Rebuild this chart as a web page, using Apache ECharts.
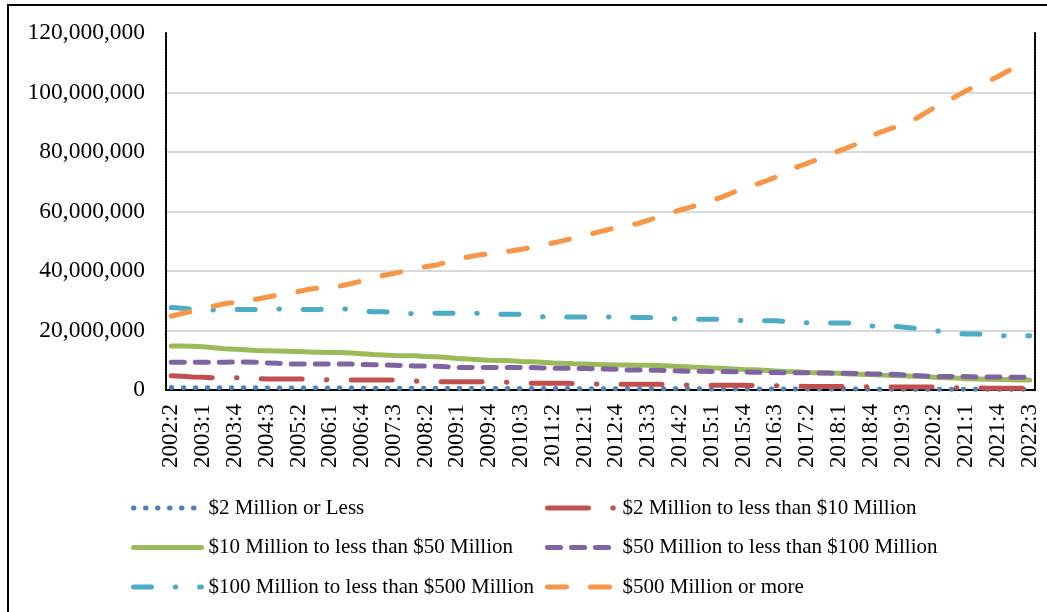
<!DOCTYPE html>
<html>
<head>
<meta charset="utf-8">
<style>
  html, body { margin: 0; padding: 0; background: #fff; }
  #chart { width: 1047px; height: 612px; }
</style>
<script src="https://cdn.jsdelivr.net/npm/echarts@6/dist/echarts.min.js"></script>
</head>
<body>
<div id="chart"></div>
<script>
// Quarters, 2002:2 through 2022:3
const quarters = [
  '2002:2','2002:3','2002:4',
  '2003:1','2003:2','2003:3','2003:4',
  '2004:1','2004:2','2004:3','2004:4',
  '2005:1','2005:2','2005:3','2005:4',
  '2006:1','2006:2','2006:3','2006:4',
  '2007:1','2007:2','2007:3','2007:4',
  '2008:1','2008:2','2008:3','2008:4',
  '2009:1','2009:2','2009:3','2009:4',
  '2010:1','2010:2','2010:3','2010:4',
  '2011:1','2011:2','2011:3','2011:4',
  '2012:1','2012:2','2012:3','2012:4',
  '2013:1','2013:2','2013:3','2013:4',
  '2014:1','2014:2','2014:3','2014:4',
  '2015:1','2015:2','2015:3','2015:4',
  '2016:1','2016:2','2016:3','2016:4',
  '2017:1','2017:2','2017:3','2017:4',
  '2018:1','2018:2','2018:3','2018:4',
  '2019:1','2019:2','2019:3','2019:4',
  '2020:1','2020:2','2020:3','2020:4',
  '2021:1','2021:2','2021:3','2021:4',
  '2022:1','2022:2','2022:3'
];

// Values in millions
const upTo2M = [
  0.80,0.79,0.78,0.77,0.76,0.75,0.74,0.73,0.72,0.71,
  0.70,0.69,0.68,0.67,0.66,0.66,0.65,0.64,0.63,0.62,
  0.61,0.60,0.59,0.58,0.57,0.56,0.56,0.55,0.54,0.53,
  0.52,0.51,0.50,0.50,0.49,0.48,0.47,0.47,0.46,0.45,
  0.44,0.44,0.43,0.42,0.42,0.41,0.40,0.40,0.39,0.38,
  0.38,0.37,0.37,0.36,0.35,0.35,0.34,0.34,0.33,0.33,
  0.32,0.32,0.31,0.31,0.30,0.30,0.29,0.29,0.28,0.28,
  0.27,0.27,0.27,0.26,0.26,0.25,0.25,0.25,0.24,0.24,
  0.24,0.23
];
const from2To10M = [
  4.8,4.6,4.4,4.3,4.1,4.1,4.1,4.0,3.8,3.7,
  3.7,3.7,3.7,3.6,3.5,3.4,3.4,3.4,3.4,3.4,
  3.4,3.4,3.2,3.0,2.9,2.8,2.8,2.8,2.8,2.8,
  2.7,2.6,2.6,2.4,2.3,2.3,2.3,2.3,2.2,2.1,
  2.0,2.0,1.9,1.9,1.9,1.9,1.9,1.8,1.7,1.7,
  1.6,1.6,1.6,1.6,1.6,1.5,1.5,1.4,1.4,1.3,
  1.2,1.2,1.2,1.2,1.2,1.1,1.1,1.1,1.0,1.0,
  1.0,1.0,1.0,0.9,0.8,0.7,0.7,0.6,0.6,0.6,
  0.6,0.6
];
const from10To50M = [
  14.8,14.8,14.7,14.5,14.2,13.9,13.7,13.5,13.3,13.2,
  13.1,13.0,12.9,12.8,12.7,12.6,12.6,12.4,12.2,11.9,
  11.8,11.6,11.5,11.5,11.3,11.2,10.9,10.6,10.4,10.2,
  10.0,9.9,9.8,9.6,9.5,9.3,9.1,9.0,8.8,8.7,
  8.6,8.5,8.4,8.4,8.3,8.3,8.2,8.1,7.9,7.7,
  7.6,7.4,7.3,7.1,6.9,6.8,6.6,6.4,6.2,6.1,
  5.9,5.8,5.7,5.6,5.4,5.3,5.2,5.0,4.9,4.8,
  4.6,4.5,4.3,4.1,4.0,3.8,3.7,3.6,3.5,3.5,
  3.4,3.4
];
const from50To100M = [
  9.3,9.3,9.3,9.3,9.3,9.3,9.4,9.4,9.3,9.1,
  9.0,8.8,8.7,8.7,8.7,8.7,8.7,8.7,8.6,8.5,
  8.4,8.3,8.2,8.1,8.1,8.0,7.8,7.6,7.6,7.5,
  7.6,7.6,7.6,7.6,7.6,7.4,7.3,7.3,7.3,7.2,
  7.1,7.1,7.0,6.7,6.7,6.7,6.6,6.5,6.4,6.3,
  6.3,6.2,6.2,6.1,6.1,6.0,5.9,5.9,5.8,5.8,
  5.8,5.7,5.7,5.6,5.6,5.5,5.4,5.4,5.3,5.1,
  4.9,4.7,4.5,4.5,4.5,4.5,4.4,4.4,4.4,4.3,
  4.3,4.2
];
const from100To500M = [
  27.7,27.5,27.1,27.0,26.9,27.0,27.1,27.1,27.1,27.2,
  27.2,27.2,27.1,27.1,27.1,27.2,27.3,27.1,26.6,26.3,
  26.3,26.0,25.8,25.6,25.7,25.8,25.8,25.8,25.8,25.8,
  25.6,25.5,25.5,25.5,25.0,24.6,24.5,24.5,24.5,24.5,
  24.6,24.6,24.5,24.5,24.4,24.4,24.1,24.0,23.9,23.8,
  23.8,23.8,23.7,23.5,23.3,23.3,23.3,23.3,23.0,22.8,
  22.6,22.6,22.5,22.5,22.5,22.0,21.5,21.5,21.5,21.2,
  20.8,20.3,20.0,19.5,19.0,18.8,18.8,18.7,18.3,18.2,
  18.2,18.2
];
const from500MUp = [
  24.8,25.7,26.5,27.4,28.2,29.0,29.5,30.0,30.5,31.2,
  31.9,32.4,33.1,33.9,34.3,34.5,35.0,35.8,36.7,37.7,
  38.5,39.2,40.0,40.8,41.4,42.0,43.0,44.0,44.7,45.4,
  45.8,46.3,46.7,47.3,47.9,48.6,49.4,50.2,51.1,51.9,
  52.8,53.7,54.6,55.3,55.9,57.0,58.3,59.4,60.5,61.5,
  62.6,63.7,64.9,66.4,67.7,68.9,70.1,71.5,73.1,74.9,
  76.2,77.5,79.0,80.4,81.7,83.3,85.3,86.8,88.0,89.3,
  90.7,92.8,94.9,96.7,98.6,100.6,102.2,103.6,105.4,107.3,
  109.0,110.6
];

const seriesNames = [
  '$2 Million or Less',
  '$2 Million to less than $10 Million',
  '$10 Million to less than $50 Million',
  '$50 Million to less than $100 Million',
  '$100 Million to less than $500 Million',
  '$500 Million or more'
];
const yTicks = { min: 0, max: 120, step: 20 }; // millions

const FONT = '"Liberation Serif", "Times New Roman", serif';
const LINE_W = 5;

function lineSeries(name, data, color, dash) {
  return {
    name: name,
    type: 'line',
    data: data,
    symbol: 'none',
    showSymbol: false,
    silent: true,
    lineStyle: {
      color: color,
      width: LINE_W,
      type: dash,
      cap: 'round',
      join: 'round'
    },
    itemStyle: { color: color }
  };
}

const legendBase = {
  orient: 'vertical',
  top: 496,
  padding: 0,
  itemWidth: 68, itemHeight: 14, itemGap: 15.5,
  selectedMode: false,
  itemStyle: { opacity: 0 },
  lineStyle: { width: LINE_W, cap: 'round', join: 'round', type: 'inherit' },
  textStyle: { fontFamily: FONT, fontSize: 21, color: '#000', lineHeight: 24, padding: [0, 0, 0, 2] }
};

const chart = echarts.init(document.getElementById('chart'), null, { renderer: 'canvas' });

const dottedFrame = { show: true, lineStyle: { color: '#000', width: 2, type: [2, 1.2] } };

chart.setOption({
  animation: false,
  backgroundColor: '#fff',
  graphic: [{
    type: 'rect',
    shape: { x: 8, y: 5, width: 1100, height: 700 },
    style: { fill: null, stroke: '#000', lineWidth: 2 },
    silent: true,
    z: 100
  }],
  grid: { left: 166, right: 12, top: 33, bottom: 222, containLabel: false },
  legend: [
    Object.assign({}, legendBase, { left: 131, data: [seriesNames[0], seriesNames[2], seriesNames[4]] }),
    Object.assign({}, legendBase, { left: 545, data: [seriesNames[1], seriesNames[3], seriesNames[5]] })
  ],
  xAxis: [
    {
      type: 'category',
      data: quarters,
      boundaryGap: true,
      axisLine: { show: true, lineStyle: { color: '#000', width: 2 } },
      axisTick: { show: false },
      axisLabel: {
        interval: 2,
        rotate: 90,
        margin: 14,
        fontFamily: FONT,
        fontSize: 23,
        color: '#000'
      },
      splitLine: { show: false },
      z: 1
    },
    {
      type: 'category',
      data: quarters,
      position: 'top',
      boundaryGap: true,
      axisLine: dottedFrame,
      axisTick: { show: false },
      axisLabel: { show: false },
      splitLine: { show: false }
    }
  ],
  yAxis: [
    {
      type: 'value',
      min: yTicks.min,
      max: yTicks.max,
      interval: yTicks.step,
      axisLine: dottedFrame,
      axisTick: { show: false },
      axisLabel: {
        margin: 21,
        fontFamily: FONT,
        fontSize: 23.5,
        color: '#000',
        formatter: v => (v * 1e6).toLocaleString('en-US')
      },
      splitLine: { show: true, showMaxLine: false, showMinLine: false, lineStyle: { color: '#D9D9D9', width: 2 } }
    },
    {
      type: 'value',
      min: yTicks.min,
      max: yTicks.max,
      interval: yTicks.step,
      position: 'right',
      axisLine: dottedFrame,
      axisTick: { show: false },
      axisLabel: { show: false },
      splitLine: { show: false }
    }
  ],
  series: [
    lineSeries(seriesNames[0], upTo2M, '#4F81BD', [0.5, 11.5]),
    lineSeries(seriesNames[1], from2To10M, '#C0504D', [41, 24.25, 0.5, 24.25]),
    lineSeries(seriesNames[2], from10To50M, '#9BBB59', 'solid'),
    lineSeries(seriesNames[3], from50To100M, '#8064A2', [13, 11]),
    lineSeries(seriesNames[4], from100To500M, '#4BACC6', [18, 23.75, 0.5, 23.75]),
    lineSeries(seriesNames[5], from500MUp, '#F79646', [19, 24])
  ]
});
</script>
</body>
</html>
